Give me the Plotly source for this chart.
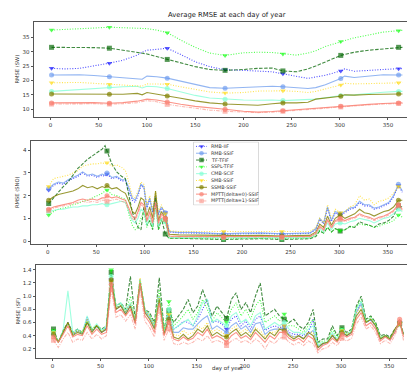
import plotly.graph_objects as go

W, H = 415, 372

# ---- data ----
NAMES = ["RMB-IIF", "RMB-SSIF", "TF-TFIF", "SSPL-TFIF", "CMB-SCIF",
         "SMB-SSIF", "SSMB-SSIF", "MPTT(delta=0)-SSIF", "MPTT(delta=1)-SSIF"]
MARK_DAYS = [1, 61, 121, 181, 241, 301, 361]

# RMSE (SW)
DAYS_SW = [1, 15, 30, 45, 61, 75, 90, 95, 100, 110, 121, 135, 150, 165, 181,
           200, 215, 230, 241, 255, 267, 275, 285, 301, 305, 315, 330, 345, 361, 365]
SW_RMB_IIF = [24.2, 24.0, 24.2, 25.0, 26.0, 27.0, 28.8, 29.8, 30.5, 30.8, 31.2, 29.0, 26.5, 24.8, 23.7,
              23.5, 23.3, 23.0, 22.3, 21.5, 20.7, 21.2, 21.8, 23.3, 24.0, 23.2, 23.5, 24.0, 24.1, 24.1]
SW_RMB_SSIF = [21.9, 21.9, 22.0, 21.7, 21.3, 21.0, 20.7, 20.4, 21.5, 21.3, 20.8, 19.8, 18.5, 17.5, 17.3,
               17.5, 17.8, 18.0, 17.8, 17.6, 17.2, 17.5, 18.5, 20.7, 21.5, 21.0, 21.5, 22.0, 21.9, 21.9]
SW_TF_TFIF = [31.5, 31.5, 31.5, 31.4, 31.2, 30.5, 29.8, 29.5, 29.2, 28.3, 27.3, 26.0, 24.8, 23.8, 23.5,
              23.8, 24.2, 24.3, 23.3, 23.0, 24.0, 25.0, 26.5, 28.7, 29.0, 29.8, 30.5, 31.0, 31.5, 31.5]
SW_SSPL_TFIF = [37.5, 37.8, 38.0, 38.2, 38.5, 38.3, 38.2, 38.1, 38.0, 37.5, 36.6, 34.0, 31.5, 29.5, 28.7,
                29.6, 29.8, 29.7, 29.2, 28.8, 29.5, 30.3, 31.8, 33.5, 33.8, 34.8, 35.8, 36.8, 37.3, 37.4]
SW_CMB_SCIF = [16.2, 16.5, 16.8, 17.2, 17.7, 17.8, 18.0, 17.4, 18.0, 17.8, 17.2, 16.0, 14.8, 13.9, 13.5,
               13.2, 13.1, 13.2, 13.0, 13.1, 13.3, 13.5, 14.0, 14.7, 14.9, 15.0, 15.5, 15.9, 16.2, 16.2]
SW_SMB_SSIF = [19.2, 19.3, 19.3, 19.0, 18.7, 18.6, 18.3, 18.0, 18.8, 18.8, 18.7, 17.8, 16.8, 16.0, 15.6,
               15.8, 16.3, 16.5, 16.4, 16.2, 15.8, 16.2, 17.0, 18.4, 19.0, 18.8, 18.9, 19.1, 19.2, 19.2]
SW_SSMB_SSIF = [15.3, 15.3, 15.4, 15.3, 15.2, 15.2, 15.5, 15.0, 15.8, 15.3, 14.6, 13.8, 12.9, 12.2, 11.8,
                11.6, 11.4, 11.9, 12.2, 12.2, 12.4, 13.5, 13.8, 14.5, 15.0, 14.9, 15.1, 15.3, 15.3, 15.3]
SW_MPTT0 = [12.2, 12.3, 12.4, 12.3, 12.1, 12.3, 12.8, 13.2, 13.5, 13.2, 12.5, 11.7, 11.0, 10.4, 10.0,
            9.3, 9.0, 9.2, 9.5, 9.8, 10.0, 10.3, 10.6, 11.0, 11.1, 11.4, 11.7, 12.0, 12.2, 12.2]
SW_MPTT1 = [11.8, 11.9, 12.0, 11.9, 11.8, 11.9, 12.3, 12.7, 13.0, 12.6, 11.7, 11.0, 10.3, 9.7, 9.3,
            8.9, 8.8, 9.0, 9.3, 9.5, 9.8, 10.1, 10.4, 10.8, 10.9, 11.2, 11.5, 11.8, 12.0, 12.0]

# RMSE (SNO)
DAYS_SNO = [1, 6, 11, 16, 21, 26, 31, 36, 41, 46, 51, 56, 59, 61,
            66, 71, 76, 80, 84, 87, 90, 93, 96, 99, 102, 105, 108, 111, 114, 117,
            121, 125, 135, 150, 165, 181, 200, 220, 241, 255, 270,
            276, 280, 284, 288, 292, 296,
            301, 306, 311, 316, 321, 326, 331, 336, 341, 346, 351, 356, 361, 365]
SNO_RMB_IIF = [2.25, 2.45, 2.55, 2.5, 2.65, 2.75, 2.85, 3.0, 2.85, 2.9, 2.8, 2.9, 2.85, 2.95,
               2.75, 2.8, 2.65, 2.65, 2.2, 1.8, 1.7, 2.0, 2.45, 2.35, 1.4, 1.85, 1.25, 1.95, 1.15, 1.45,
               1.25, 0.4, 0.36, 0.36, 0.34, 0.3, 0.33, 0.34, 0.3, 0.32, 0.34,
               0.5, 0.95, 0.75, 1.45, 0.85, 1.25,
               1.15, 1.25, 1.4, 1.45, 1.7, 1.55, 1.55, 1.4, 1.45, 1.55, 1.65, 1.95, 2.45, 2.15]
SNO_RMB_SSIF = [2.3, 2.5, 2.6, 2.55, 2.7, 2.8, 2.9, 3.05, 2.9, 2.95, 2.85, 2.95, 2.9, 3.0,
                2.8, 2.85, 2.7, 2.7, 2.3, 1.9, 1.8, 2.1, 2.5, 2.4, 1.5, 1.9, 1.3, 2.0, 1.2, 1.5,
                1.25, 0.42, 0.38, 0.38, 0.36, 0.32, 0.35, 0.36, 0.32, 0.34, 0.36,
                0.55, 1.0, 0.8, 1.5, 0.9, 1.3,
                1.2, 1.3, 1.45, 1.5, 1.75, 1.6, 1.6, 1.45, 1.5, 1.6, 1.7, 2.0, 2.5, 2.2]
SNO_TF_TFIF = [1.65, 1.9, 2.2, 2.4, 2.6, 2.9, 3.2, 3.4, 3.6, 3.75, 3.9, 4.05, 4.2, 3.97,
               3.4, 3.05, 2.85, 2.75, 2.0, 1.3, 0.9, 0.6, 0.5, 1.5, 0.7, 0.9, 0.5, 1.9, 0.5, 1.0,
               0.31, 0.12, 0.12, 0.1, 0.1, 0.07, 0.09, 0.1, 0.07, 0.1, 0.1,
               0.2, 0.45, 0.35, 0.6, 0.4, 0.55,
               0.44, 0.5, 0.65, 0.6, 0.85, 0.75, 0.7, 0.6, 0.75, 0.8, 0.9, 1.1, 1.55, 1.5]
SNO_SSPL_TFIF = [1.15, 1.3, 1.4, 1.45, 1.5, 1.6, 1.65, 1.75, 1.8, 1.9, 2.0, 2.1, 2.2, 2.25,
                 2.05, 2.0, 1.9, 1.85, 1.1, 0.7, 0.5, 0.6, 1.0, 1.3, 0.6, 0.9, 0.55, 1.5, 0.5, 0.9,
                 0.85, 0.12, 0.12, 0.11, 0.11, 0.1, 0.11, 0.12, 0.1, 0.11, 0.12,
                 0.25, 0.45, 0.35, 0.6, 0.4, 0.55,
                 0.45, 0.5, 0.6, 0.65, 0.75, 0.7, 0.7, 0.6, 0.65, 0.75, 0.8, 0.9, 1.15, 1.05]
SNO_CMB_SCIF = [1.3, 1.35, 1.4, 1.4, 1.45, 1.5, 1.5, 1.55, 1.55, 1.6, 1.6, 1.65, 1.6, 1.6,
                1.65, 1.7, 1.75, 1.7, 1.2, 0.9, 0.8, 1.0, 1.4, 1.3, 0.7, 1.1, 0.65, 1.4, 0.65, 1.0,
                0.85, 0.17, 0.15, 0.15, 0.14, 0.13, 0.14, 0.15, 0.13, 0.14, 0.15,
                0.3, 0.55, 0.4, 0.8, 0.5, 0.75,
                0.8, 0.75, 0.85, 0.9, 1.0, 0.95, 0.9, 0.8, 0.9, 1.0, 1.05, 1.2, 1.4, 1.3]
SNO_SMB_SSIF = [2.4, 2.75, 2.8, 2.85, 2.9, 3.0, 3.1, 3.3, 3.35, 3.4, 3.4, 3.45, 3.4, 3.45,
                3.3, 3.35, 3.25, 3.1, 2.5, 2.0, 1.9, 2.2, 2.6, 2.5, 1.6, 2.0, 1.4, 2.2, 1.3, 1.6,
                1.2, 0.45, 0.42, 0.42, 0.4, 0.42, 0.4, 0.42, 0.42, 0.4, 0.42,
                0.6, 1.0, 0.8, 1.6, 1.0, 1.4,
                1.25, 1.3, 1.5, 1.6, 2.0, 1.8, 1.85, 1.6, 1.75, 1.8, 1.9, 2.1, 2.4, 2.3]
SNO_SSMB_SSIF = [1.8, 1.95, 2.05, 2.1, 2.15, 2.2, 2.3, 2.45, 2.35, 2.4, 2.3, 2.4, 2.35, 2.45,
                 2.3, 2.35, 2.2, 2.1, 1.7, 1.3, 1.2, 1.5, 1.9, 1.8, 1.1, 1.5, 1.0, 2.2, 0.9, 1.3,
                 1.0, 0.3, 0.27, 0.26, 0.25, 0.22, 0.24, 0.25, 0.22, 0.24, 0.25,
                 0.4, 0.75, 0.6, 1.1, 0.7, 1.0,
                 1.15, 1.0, 1.1, 1.2, 1.4, 1.25, 1.2, 1.1, 1.2, 1.3, 1.35, 1.5, 1.8, 1.8]
SNO_MPTT0 = [1.4, 1.5, 1.55, 1.6, 1.65, 1.7, 1.8, 1.85, 1.8, 1.85, 1.8, 1.9, 1.9, 2.0,
             1.9, 1.95, 1.85, 1.8, 1.4, 1.1, 1.0, 1.3, 1.7, 1.6, 0.9, 1.3, 0.8, 1.7, 0.8, 1.2,
             1.0, 0.22, 0.2, 0.2, 0.19, 0.18, 0.19, 0.2, 0.18, 0.19, 0.2,
             0.35, 0.65, 0.5, 0.95, 0.6, 0.9,
             1.0, 0.9, 1.0, 1.05, 1.2, 1.1, 1.05, 0.95, 1.05, 1.1, 1.2, 1.35, 1.6, 1.4]
SNO_MPTT1 = [1.35, 1.45, 1.5, 1.55, 1.6, 1.65, 1.7, 1.75, 1.7, 1.75, 1.7, 1.8, 1.8, 1.75,
             1.8, 1.85, 1.75, 1.7, 1.3, 1.0, 0.9, 1.2, 1.6, 1.5, 0.85, 1.2, 0.75, 1.6, 0.75, 1.1,
             0.95, 0.2, 0.18, 0.18, 0.17, 0.16, 0.17, 0.18, 0.16, 0.17, 0.18,
             0.3, 0.6, 0.45, 0.9, 0.55, 0.85,
             0.95, 0.85, 0.95, 1.0, 1.15, 1.05, 1.0, 0.9, 1.0, 1.05, 1.15, 1.3, 1.55, 1.35]

# RMSE (SF), every 5th day
DAYS_SF = list(range(1, 362, 5)) + [365]
SF_RMB_IIF = [0.44, 0.3, 0.46, 0.6, 0.42, 0.48, 0.44, 0.68, 0.48, 0.55, 0.46, 0.52,
              1.25, 0.82, 0.86, 0.76, 0.88, 0.6, 1.2, 0.78, 0.7, 0.55, 1.0, 0.45,
              0.7, 0.5, 0.55, 0.62, 0.6, 0.55, 0.65, 0.8, 0.95, 0.6, 0.62, 0.58,
              0.5, 0.65, 0.7, 0.55, 0.62, 0.5, 0.65, 0.7, 0.48, 0.52, 0.55, 0.52,
              0.55, 0.45, 0.42, 0.42, 0.4, 0.45, 0.65, 0.24, 0.28, 0.3, 0.42, 0.34,
              0.46, 0.4, 0.46, 0.78, 0.9, 0.6, 0.64, 0.55, 0.35, 0.4, 0.34, 0.46,
              0.6, 0.42]
SF_RMB_SSIF = [0.43, 0.3, 0.45, 0.6, 0.42, 0.47, 0.43, 0.66, 0.47, 0.54, 0.45, 0.5,
               1.22, 0.8, 0.85, 0.74, 0.86, 0.6, 1.2, 0.76, 0.68, 0.52, 0.98, 0.44,
               0.68, 0.45, 0.45, 0.52, 0.5, 0.5, 0.58, 0.65, 0.7, 0.5, 0.55, 0.5,
               0.45, 0.55, 0.6, 0.5, 0.55, 0.45, 0.58, 0.6, 0.42, 0.48, 0.5, 0.5,
               0.52, 0.42, 0.38, 0.4, 0.36, 0.42, 0.48, 0.22, 0.27, 0.3, 0.4, 0.33,
               0.45, 0.4, 0.45, 0.75, 0.88, 0.6, 0.64, 0.55, 0.35, 0.4, 0.34, 0.46,
               0.6, 0.42]
SF_TF_TFIF = [0.5, 0.3, 0.48, 0.6, 0.45, 0.5, 0.45, 0.6, 0.5, 0.55, 0.5, 0.55,
              1.36, 0.85, 0.9, 0.8, 1.3, 0.65, 1.25, 0.8, 0.75, 0.6, 1.28, 0.5,
              0.78, 0.6, 0.7, 0.8, 0.95, 0.75, 0.85, 1.1, 0.9, 0.7, 0.85, 0.75,
              0.66, 0.95, 1.05, 0.8, 0.9, 0.75, 1.0, 1.2, 0.7, 0.75, 0.8, 0.7,
              0.65, 0.6, 0.65, 0.55, 0.5, 0.6, 0.8, 0.3, 0.35, 0.35, 0.55, 0.4,
              0.52, 0.45, 0.5, 0.85, 1.0, 0.65, 0.7, 0.6, 0.4, 0.42, 0.38, 0.5,
              0.58, 0.45]
SF_SSPL_TFIF = [0.48, 0.3, 0.46, 0.58, 0.42, 0.48, 0.44, 0.62, 0.48, 0.55, 0.48, 0.52,
                1.4, 0.82, 0.88, 0.76, 1.0, 0.62, 1.22, 0.78, 0.72, 0.56, 1.1, 0.48,
                0.92, 0.55, 0.62, 0.7, 0.8, 0.65, 0.75, 0.95, 0.8, 0.62, 0.75, 0.68,
                0.6, 0.8, 0.9, 0.7, 0.8, 0.65, 0.85, 0.95, 0.6, 0.65, 0.7, 0.62,
                0.73, 0.55, 0.55, 0.5, 0.45, 0.55, 0.65, 0.28, 0.32, 0.32, 0.5, 0.38,
                0.5, 0.42, 0.48, 0.82, 0.95, 0.62, 0.68, 0.58, 0.38, 0.4, 0.36, 0.48,
                0.58, 0.44]
SF_CMB_SCIF = [0.45, 0.3, 0.48, 1.08, 0.45, 0.5, 0.45, 0.7, 0.5, 0.58, 0.48, 0.55,
               1.3, 0.85, 0.9, 0.78, 0.9, 0.62, 1.25, 0.8, 0.7, 0.55, 1.0, 0.46,
               0.8, 0.5, 0.55, 0.6, 0.65, 0.55, 0.7, 0.9, 0.95, 0.6, 0.65, 0.6,
               0.55, 0.7, 0.75, 0.6, 0.65, 0.55, 0.7, 0.75, 0.5, 0.55, 0.6, 0.55,
               0.6, 0.5, 0.45, 0.45, 0.42, 0.5, 0.55, 0.25, 0.3, 0.3, 0.45, 0.35,
               0.48, 0.42, 0.48, 0.8, 0.92, 0.6, 0.66, 0.56, 0.36, 0.4, 0.35, 0.48,
               0.6, 0.42]
SF_SMB_SSIF = [0.45, 0.3, 0.46, 0.6, 0.43, 0.48, 0.45, 0.65, 0.5, 0.56, 0.46, 0.52,
               1.22, 0.82, 0.86, 0.76, 0.88, 0.62, 1.28, 0.78, 0.7, 0.55, 1.0, 0.45,
               0.72, 0.42, 0.4, 0.48, 0.42, 0.45, 0.55, 0.5, 0.6, 0.45, 0.5, 0.45,
               0.4, 0.5, 0.55, 0.45, 0.5, 0.42, 0.52, 0.48, 0.38, 0.45, 0.45, 0.52,
               0.55, 0.4, 0.38, 0.4, 0.35, 0.45, 0.45, 0.22, 0.28, 0.3, 0.42, 0.33,
               0.48, 0.42, 0.46, 0.75, 0.85, 0.6, 0.65, 0.55, 0.35, 0.4, 0.35, 0.46,
               0.58, 0.42]
SF_SSMB_SSIF = [0.42, 0.3, 0.45, 0.6, 0.4, 0.45, 0.42, 0.6, 0.45, 0.55, 0.45, 0.5,
                1.25, 0.8, 0.85, 0.72, 0.85, 0.6, 1.2, 0.75, 0.65, 0.5, 0.95, 0.42,
                0.65, 0.38, 0.35, 0.42, 0.35, 0.4, 0.5, 0.45, 0.55, 0.4, 0.45, 0.4,
                0.38, 0.45, 0.5, 0.4, 0.45, 0.38, 0.5, 0.42, 0.35, 0.45, 0.4, 0.5,
                0.48, 0.4, 0.35, 0.4, 0.35, 0.45, 0.4, 0.22, 0.28, 0.3, 0.4, 0.32,
                0.45, 0.4, 0.45, 0.7, 0.8, 0.6, 0.65, 0.55, 0.35, 0.4, 0.35, 0.5,
                0.6, 0.42]
SF_MPTT0 = [0.38, 0.3, 0.42, 0.55, 0.38, 0.42, 0.4, 0.55, 0.42, 0.5, 0.42, 0.45,
            1.18, 0.75, 0.8, 0.7, 0.8, 0.58, 1.2, 0.7, 0.6, 0.45, 0.9, 0.4,
            0.6, 0.35, 0.32, 0.38, 0.33, 0.36, 0.45, 0.4, 0.5, 0.36, 0.4, 0.36,
            0.3, 0.4, 0.45, 0.36, 0.4, 0.34, 0.45, 0.38, 0.3, 0.4, 0.35, 0.45,
            0.45, 0.36, 0.32, 0.36, 0.3, 0.4, 0.35, 0.18, 0.25, 0.28, 0.36, 0.3,
            0.42, 0.38, 0.42, 0.65, 0.75, 0.55, 0.6, 0.5, 0.32, 0.38, 0.33, 0.45,
            0.65, 0.38]
SF_MPTT1 = [0.33, 0.22, 0.35, 0.45, 0.3, 0.35, 0.33, 0.45, 0.35, 0.42, 0.35, 0.4,
            1.1, 0.68, 0.72, 0.62, 0.72, 0.5, 1.1, 0.62, 0.52, 0.38, 0.8, 0.33,
            0.5, 0.28, 0.26, 0.3, 0.27, 0.3, 0.36, 0.32, 0.4, 0.3, 0.33, 0.3,
            0.25, 0.32, 0.36, 0.3, 0.33, 0.28, 0.35, 0.3, 0.2, 0.32, 0.28, 0.36,
            0.38, 0.3, 0.26, 0.3, 0.25, 0.32, 0.28, 0.14, 0.2, 0.22, 0.3, 0.25,
            0.36, 0.32, 0.36, 0.58, 0.68, 0.5, 0.55, 0.45, 0.28, 0.33, 0.28, 0.4,
            0.6, 0.33]

SW = [SW_RMB_IIF, SW_RMB_SSIF, SW_TF_TFIF, SW_SSPL_TFIF, SW_CMB_SCIF,
      SW_SMB_SSIF, SW_SSMB_SSIF, SW_MPTT0, SW_MPTT1]
SNO = [SNO_RMB_IIF, SNO_RMB_SSIF, SNO_TF_TFIF, SNO_SSPL_TFIF, SNO_CMB_SCIF,
       SNO_SMB_SSIF, SNO_SSMB_SSIF, SNO_MPTT0, SNO_MPTT1]
SF = [SF_RMB_IIF, SF_RMB_SSIF, SF_TF_TFIF, SF_SSPL_TFIF, SF_CMB_SCIF,
      SF_SMB_SSIF, SF_SSMB_SSIF, SF_MPTT0, SF_MPTT1]

# ---- styles ----
COLORS = ["#0000ff", "#6495ed", "#006400", "#00ff00", "#7fffd4",
          "#ffd700", "#808000", "#fa8072", "#fa8072"]
ALPHA = [0.7, 0.7, 0.75, 0.7, 0.75, 0.7, 0.8, 0.85, 0.55]
DOT = "1px,1.6px"
DASH = "3.5px,1.5px"
DASHDOT = "3.5px,1.2px,1px,1.2px"
DASHES = [DOT, "solid", DASH, DOT, "solid", DOT, "solid", "solid", DASHDOT]
SYMBOLS = ["triangle-down", "circle", "square", "triangle-down", "circle",
           "triangle-down", "circle", "circle", "square"]
MS = 5


def rgba(hex_color, a):
    h = hex_color.lstrip("#")
    r, g, b = int(h[0:2], 16), int(h[2:4], 16), int(h[4:6], 16)
    return f"rgba({r},{g},{b},{a})"


fig = go.Figure()

panels = [(DAYS_SW, SW, "x", "y"), (DAYS_SNO, SNO, "x2", "y2"), (DAYS_SF, SF, "x3", "y3")]
for days, series, xa, ya in panels:
    for vals in series:
        assert len(vals) == len(days), (len(vals), len(days))
    marks = [d in MARK_DAYS for d in days]
    for i, vals in enumerate(series):
        fig.add_trace(go.Scatter(
            x=days, y=vals, mode="lines+markers", xaxis=xa, yaxis=ya,
            showlegend=False, hoverinfo="skip",
            line=dict(color=rgba(COLORS[i], ALPHA[i]), width=1.1, dash=DASHES[i]),
            marker=dict(symbol=SYMBOLS[i], color=rgba(COLORS[i], min(1, ALPHA[i] + 0.2)),
                        size=[MS if m else 0 for m in marks], line=dict(width=0)),
        ))

# ---- hand-made legend on an overlay axis (pixel coordinates) ----
LX0, LX1, LY0, LY1 = 185.5, 250.5, 134, 197
fig.add_trace(go.Scatter(
    x=[LX0, LX1, LX1, LX0, LX0], y=[LY0, LY0, LY1, LY1, LY0], mode="lines",
    fill="toself", fillcolor="rgba(255,255,255,0.85)",
    line=dict(color="#d0d0d0", width=0.8), xaxis="x4", yaxis="y4",
    showlegend=False, hoverinfo="skip"))
annotations = []
for i, name in enumerate(NAMES):
    yy = 138.4 + i * 6.82
    fig.add_trace(go.Scatter(
        x=[188, 193.5, 199], y=[yy, yy, yy], mode="lines+markers",
        xaxis="x4", yaxis="y4", showlegend=False, hoverinfo="skip",
        line=dict(color=rgba(COLORS[i], ALPHA[i]), width=1, dash=DASHES[i]),
        marker=dict(symbol=SYMBOLS[i], color=rgba(COLORS[i], min(1, ALPHA[i] + 0.2)),
                    size=[0, 4.5, 0], line=dict(width=0))))
    annotations.append(dict(x=201, y=yy, xref="x4", yref="y4", text=name, showarrow=False,
                            xanchor="left", yanchor="middle",
                            font=dict(size=4.8, color="#333")))


def dom_x(a, b):
    return [a / W, b / W]


def dom_y(top, bottom):
    return [1 - bottom / H, 1 - top / H]


FONT = "DejaVu Sans"
axis_common = dict(showline=True, mirror=True, linecolor="#555", linewidth=0.9,
                   ticks="outside", ticklen=2.5, tickwidth=0.8, tickcolor="#555",
                   showgrid=False, zeroline=False,
                   tickfont=dict(size=5.5, color="#333", family=FONT))
xt = dict(tickmode="array", tickvals=[0, 50, 100, 150, 200, 250, 300, 350])

fig.update_layout(
    width=W, height=H, margin=dict(l=0, r=0, t=0, b=0),
    paper_bgcolor="white", plot_bgcolor="white",
    font=dict(family=FONT, color="#333"),
    xaxis=dict(domain=dom_x(26, 412), range=[-17.2, 383.2], anchor="y", **xt, **axis_common),
    yaxis=dict(domain=dom_y(14, 109), range=[7.3, 40.3], anchor="x",
               tickvals=[10, 15, 20, 25, 30, 35], **axis_common),
    xaxis2=dict(domain=dom_x(23, 412), range=[-17.2, 383.2], anchor="y2", **xt, **axis_common),
    yaxis2=dict(domain=dom_y(132.7, 236), range=[-0.13, 4.42], anchor="x2",
                tickvals=[0, 1, 2, 3, 4], **axis_common),
    xaxis3=dict(domain=dom_x(28, 413), range=[-17.2, 383.2], anchor="y3", **xt, **axis_common),
    yaxis3=dict(domain=dom_y(257.3, 349.5), range=[0.069, 1.468], anchor="x3",
                tickvals=[0.2, 0.4, 0.6, 0.8, 1.0, 1.2, 1.4], tickformat=".1f", **axis_common),
    xaxis4=dict(domain=dom_x(LX0 - 0.5, LX1 + 0.5), range=[LX0 - 0.5, LX1 + 0.5],
                anchor="y4", visible=False),
    yaxis4=dict(domain=dom_y(LY0 - 0.5, LY1 + 0.5), range=[LY1 + 0.5, LY0 - 0.5],
                anchor="x4", visible=False),
)

# titles
txt = dict(xref="paper", yref="paper", showarrow=False, xanchor="center", yanchor="middle")
annotations += [
    dict(x=219 / W, y=1 - 7 / H, text="Average RMSE at each day of year",
         font=dict(size=6.8, color="#222", family=FONT), **txt),
    dict(x=9 / W, y=1 - 61.5 / H, textangle=-90, text="RMSE (SW)",
         font=dict(size=5.2, color="#333", family=FONT), **txt),
    dict(x=9 / W, y=1 - 184 / H, textangle=-90, text="RMSE (SNO)",
         font=dict(size=5.2, color="#333", family=FONT), **txt),
    dict(x=9 / W, y=1 - 303.5 / H, textangle=-90, text="RMSE (SF)",
         font=dict(size=5.2, color="#333", family=FONT), **txt),
    dict(x=220 / W, y=7 / H, xref="paper", yref="paper", showarrow=False,
         xanchor="center", yanchor="bottom", borderpad=0, text="day of year",
         font=dict(size=5.5, color="#333", family=FONT)),
]
fig.update_layout(annotations=annotations)

fig.write_html("out.html")
